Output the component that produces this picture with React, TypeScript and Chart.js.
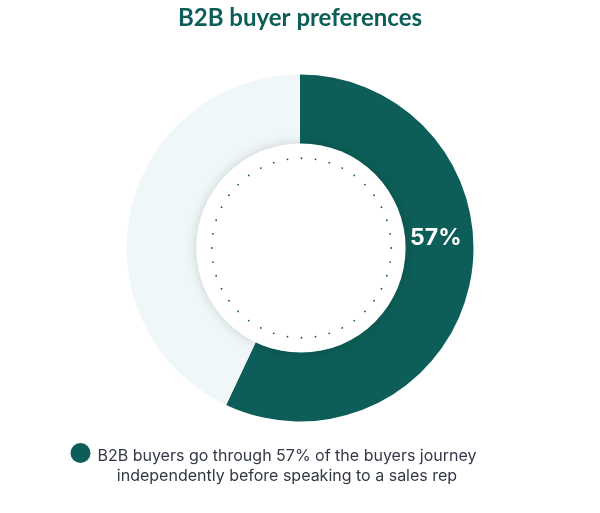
import React, { useEffect, useRef } from "react";
import { Chart, registerables } from "chart.js";

Chart.register(...registerables);

const title = "B2B buyer preferences";
const categories = ["Independent journey", "Other"];
const values = [57, 43];
const valueLabel = "57%";
const legendLines = [
  "B2B buyers go through 57% of the buyers journey",
  "independently before speaking to a sales rep",
];
const colors = ["#0d5e58", "#f0f7f9"];

const overlayPlugin = {
  id: "overlay",
  afterDatasetsDraw(chart: any) {
    const meta = chart.getDatasetMeta(0);
    const arc = meta.data[0];
    if (!arc) return;
    const { x, y, outerRadius, innerRadius } = arc.getProps(
      ["x", "y", "outerRadius", "innerRadius"],
      true
    );
    const ctx = chart.ctx;
    // white inner disc with shadow
    ctx.save();
    ctx.shadowColor = "rgba(0,0,0,0.16)";
    ctx.shadowBlur = 12;
    ctx.fillStyle = "#ffffff";
    ctx.beginPath();
    ctx.arc(x + 1, y, innerRadius + 0.5, 0, Math.PI * 2);
    ctx.fill();
    ctx.restore();
    // dotted ring
    ctx.save();
    ctx.fillStyle = "#0d5e58";
    const n = 40;
    const r = innerRadius * 0.862;
    for (let i = 0; i < n; i++) {
      const a = -Math.PI / 2 + (i * Math.PI * 2) / n;
      ctx.beginPath();
      ctx.arc(x + 1.5 + r * Math.cos(a), y + r * Math.sin(a), 0.9, 0, Math.PI * 2);
      ctx.fill();
    }
    ctx.restore();
    // value label
    ctx.save();
    ctx.fillStyle = "#ffffff";
    ctx.font = "700 23px Inter";
    ctx.textAlign = "center";
    ctx.textBaseline = "middle";
    const mid = (innerRadius + outerRadius) / 2;
    ctx.fillText(valueLabel, x + mid - 3, y - 10);
    ctx.restore();
    // legend
    ctx.save();
    const lx = 287;
    const ly = 456;
    ctx.font = "400 16px Inter";
    ctx.fillStyle = "#333845";
    ctx.textAlign = "center";
    ctx.textBaseline = "middle";
    legendLines.forEach((t, i) => ctx.fillText(t, lx, ly + i * 20));
    const w0 = ctx.measureText(legendLines[0]).width;
    ctx.fillStyle = colors[0];
    ctx.beginPath();
    ctx.arc(lx - w0 / 2 - 17, ly - 3, 10, 0, Math.PI * 2);
    ctx.fill();
    ctx.restore();
  },
};

export default function App() {
  const ref = useRef<HTMLCanvasElement>(null);
  useEffect(() => {
    if (!ref.current) return;
    const chart = new Chart(ref.current, {
      type: "doughnut",
      data: {
        labels: categories,
        datasets: [
          {
            data: values,
            backgroundColor: colors,
            borderWidth: 0,
            hoverOffset: 0,
          },
        ],
      },
      options: {
        animation: false,
        responsive: true,
        maintainAspectRatio: false,
        cutout: "60%",
        layout: { padding: { top: 0, bottom: 91.5, left: 0, right: 0 } },
        plugins: {
          legend: { display: false },
          tooltip: { enabled: false },
          title: {
            display: true,
            text: title,
            color: "#0d5e58",
            font: { family: "Lato", size: 24, weight: "bold" },
            padding: { top: 4, bottom: 41.7 },
          },
        },
      },
      plugins: [overlayPlugin],
    });
    return () => chart.destroy();
  }, []);
  return (
    <div style={{ position: "absolute", left: 0, top: 0, width: 600, height: 513 }}>
      <canvas ref={ref} />
    </div>
  );
}
